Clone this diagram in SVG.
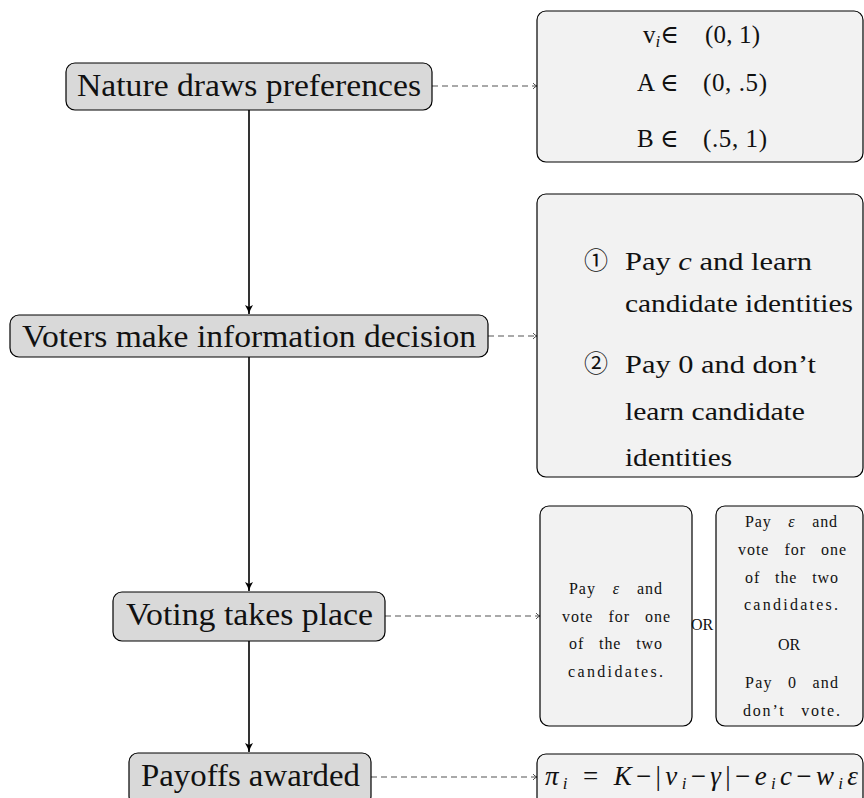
<svg xmlns="http://www.w3.org/2000/svg" width="864" height="798" viewBox="0 0 864 798">
<defs>
<marker id="solid" markerWidth="12" markerHeight="10" refX="10" refY="5" orient="auto" markerUnits="userSpaceOnUse">
<path d="M1,1 Q6,4 10,5 Q6,6 1,9 L3,5 Z" fill="#000"/>
</marker>
<marker id="open" markerWidth="8" markerHeight="8" refX="7" refY="4" orient="auto" markerUnits="userSpaceOnUse">
<path d="M3,1 Q5,3.5 7,4 Q5,4.5 3,7" fill="none" stroke="#555" stroke-width="1"/>
</marker>
<style>
.node rect{fill:#d9d9d9;stroke:#000;stroke-width:1.2}
.box rect{fill:#f2f2f2;stroke:#000;stroke-width:1.2}
text{font-family:"Liberation Serif","DejaVu Serif",serif;fill:#111}
.big{font-size:31px}
.mid{font-size:25px}
.med{font-size:25px}
.small{font-size:16px}
.circ{font-family:"Noto Sans CJK JP","DejaVu Sans",sans-serif;font-size:24px}
.solid{stroke:#000;stroke-width:1.6;fill:none;marker-end:url(#solid)}
.dash{stroke:#555;stroke-width:1.1;stroke-dasharray:6 4;fill:none;marker-end:url(#open)}
.it{font-style:italic}
</style>
</defs>
<g id="connectors">
<line class="solid" x1="249" y1="110" x2="249" y2="314"/>
<line class="solid" x1="249" y1="357" x2="249" y2="591"/>
<line class="solid" x1="249" y1="641" x2="249" y2="752"/>
<line class="dash" x1="432" y1="86" x2="537" y2="86"/>
<line class="dash" x1="488" y1="336" x2="537" y2="336"/>
<line class="dash" x1="385" y1="616" x2="540" y2="616"/>
<line class="dash" x1="371" y1="777" x2="537" y2="777"/>
</g>
<g id="n1" class="node">
<rect x="66" y="63" width="366" height="47" rx="9"/>
<text class="big" x="77" y="96" textLength="344" lengthAdjust="spacingAndGlyphs">Nature draws preferences</text>
</g>
<g id="n2" class="node">
<rect x="10" y="315" width="478" height="42" rx="9"/>
<text class="big" x="22" y="347" textLength="454" lengthAdjust="spacingAndGlyphs">Voters make information decision</text>
</g>
<g id="n3" class="node">
<rect x="113" y="592" width="272" height="49" rx="9"/>
<text class="big" x="126" y="625" textLength="247" lengthAdjust="spacingAndGlyphs">Voting takes place</text>
</g>
<g id="n4" class="node">
<rect x="129" y="753" width="242" height="52" rx="9"/>
<text class="big" x="141" y="786" textLength="219" lengthAdjust="spacingAndGlyphs">Payoffs awarded</text>
</g>
<g id="b1" class="box">
<rect x="537" y="11" width="326" height="151" rx="9"/>
<text class="med" x="643" y="43">v<tspan class="it" font-size="17" dy="4">i</tspan><tspan dy="-4">∈</tspan><tspan x="705" textLength="55">(0, 1)</tspan></text>
<text class="med" x="637" y="91">A ∈<tspan x="703" textLength="64">(0, .5)</tspan></text>
<text class="med" x="637" y="147">B ∈<tspan x="703" textLength="64">(.5, 1)</tspan></text>
</g>
<g id="b2" class="box">
<rect x="537" y="194" width="326" height="283" rx="9"/>
<text class="circ" x="584" y="269">①</text>
<text class="mid" x="625" y="270" textLength="187" lengthAdjust="spacingAndGlyphs">Pay <tspan class="it">c</tspan> and learn</text>
<text class="mid" x="625" y="312" textLength="228" lengthAdjust="spacingAndGlyphs">candidate identities</text>
<text class="circ" x="584" y="372">②</text>
<text class="mid" x="625" y="373" textLength="191" lengthAdjust="spacingAndGlyphs">Pay 0 and don’t</text>
<text class="mid" x="625" y="420" textLength="180" lengthAdjust="spacingAndGlyphs">learn candidate</text>
<text class="mid" x="625" y="466" textLength="107" lengthAdjust="spacingAndGlyphs">identities</text>
</g>
<g id="b3a" class="box">
<rect x="540" y="506" width="152" height="220" rx="9"/>
<text class="small" x="569" y="594" textLength="93" word-spacing="12">Pay <tspan class="it">ε</tspan> and</text>
<text class="small" x="562" y="622" textLength="108" word-spacing="10">vote for one</text>
<text class="small" x="569" y="649" textLength="93" word-spacing="10">of the two</text>
<text class="small" x="568" y="677" textLength="95">candidates.</text>
</g>
<g id="or">
<text class="small" x="691" y="630">OR</text>
</g>
<g id="b3b" class="box">
<rect x="716" y="506" width="147" height="220" rx="9"/>
<text class="small" x="745" y="527" textLength="92" word-spacing="12">Pay <tspan class="it">ε</tspan> and</text>
<text class="small" x="738" y="555" textLength="108" word-spacing="10">vote for one</text>
<text class="small" x="745" y="583" textLength="93" word-spacing="10">of the two</text>
<text class="small" x="744" y="610" textLength="94">candidates.</text>
<text class="small" x="778" y="650">OR</text>
<text class="small" x="745" y="688" textLength="93" word-spacing="10">Pay 0 and</text>
<text class="small" x="743" y="716" textLength="97" word-spacing="10">don’t vote.</text>
</g>
<g id="b4" class="box">
<rect x="537" y="754" width="326" height="52" rx="9"/>
<text font-size="27" x="545" y="785" textLength="313" lengthAdjust="spacing"><tspan class="it">π</tspan><tspan class="it" font-size="17" dy="4">i</tspan><tspan dy="-4"> = </tspan><tspan class="it">K</tspan>−|<tspan class="it">v</tspan><tspan class="it" font-size="17" dy="4">i</tspan><tspan dy="-4">−</tspan><tspan class="it">γ</tspan>|−<tspan class="it">e</tspan><tspan class="it" font-size="17" dy="4">i</tspan><tspan class="it" dy="-4">c</tspan>−<tspan class="it">w</tspan><tspan class="it" font-size="17" dy="4">i</tspan><tspan class="it" dy="-4">ε</tspan></text>
</g>
</svg>
